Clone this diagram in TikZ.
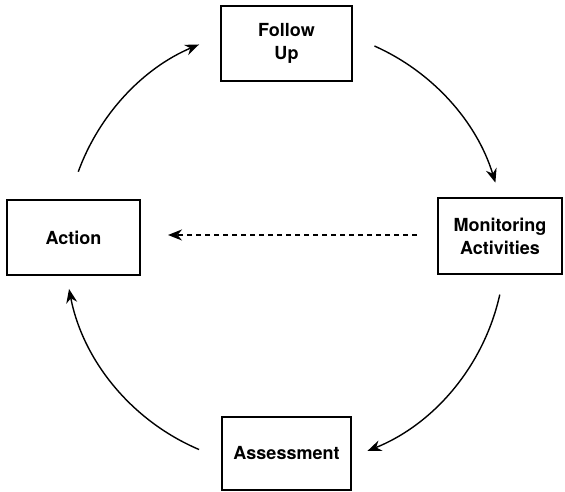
\documentclass[tikz,border=0pt]{standalone}
\usepackage{fontspec}
\setmainfont{TeX Gyre Heros}
\usetikzlibrary{arrows.meta}
\tikzset{
  box/.style={draw, line width=2.5pt, rectangle, inner sep=0pt, align=center,
    font=\fontsize{18}{23}\selectfont\bfseries},
  cyc/.style={line width=1.4pt, -{Stealth[length=14pt,width=11pt]}},
  dashline/.style={line width=1.9pt, dash pattern=on 5pt off 4pt, -{Stealth[length=14pt,width=11pt]}}
}
\begin{document}
\begin{tikzpicture}[x=1pt,y=1pt]
\useasboundingbox (0,0) rectangle (565,492);
\node[box, minimum width=131pt, minimum height=75pt] (follow) at (286.5,448.5) {Follow\\Up};
\node[box, minimum width=124pt, minimum height=76pt] (monitor) at (500,256) {Monitoring\\Activities};
\node[box, minimum width=133pt, minimum height=75pt] (action) at (73.5,254.5) {Action};
\node[box, minimum width=129pt, minimum height=73pt] (assess) at (286.5,38.5) {Assessment};
\coordinate (c) at (285,245);
\draw[cyc] ([shift={(160:220)}]c) arc[start angle=160, end angle=113, radius=220];
\draw[cyc] ([shift={(66:220)}]c) arc[start angle=66, end angle=17, radius=220];
\draw[cyc] ([shift={(-12.5:220)}]c) arc[start angle=-12.5, end angle=-68, radius=220];
\draw[cyc] ([shift={(-113:220)}]c) arc[start angle=-113, end angle=-169, radius=220];
\coordinate (ds) at (417,257);
\coordinate (de) at (168,257);
\draw[dashline] (ds) -- (de);
\end{tikzpicture}
\end{document}
